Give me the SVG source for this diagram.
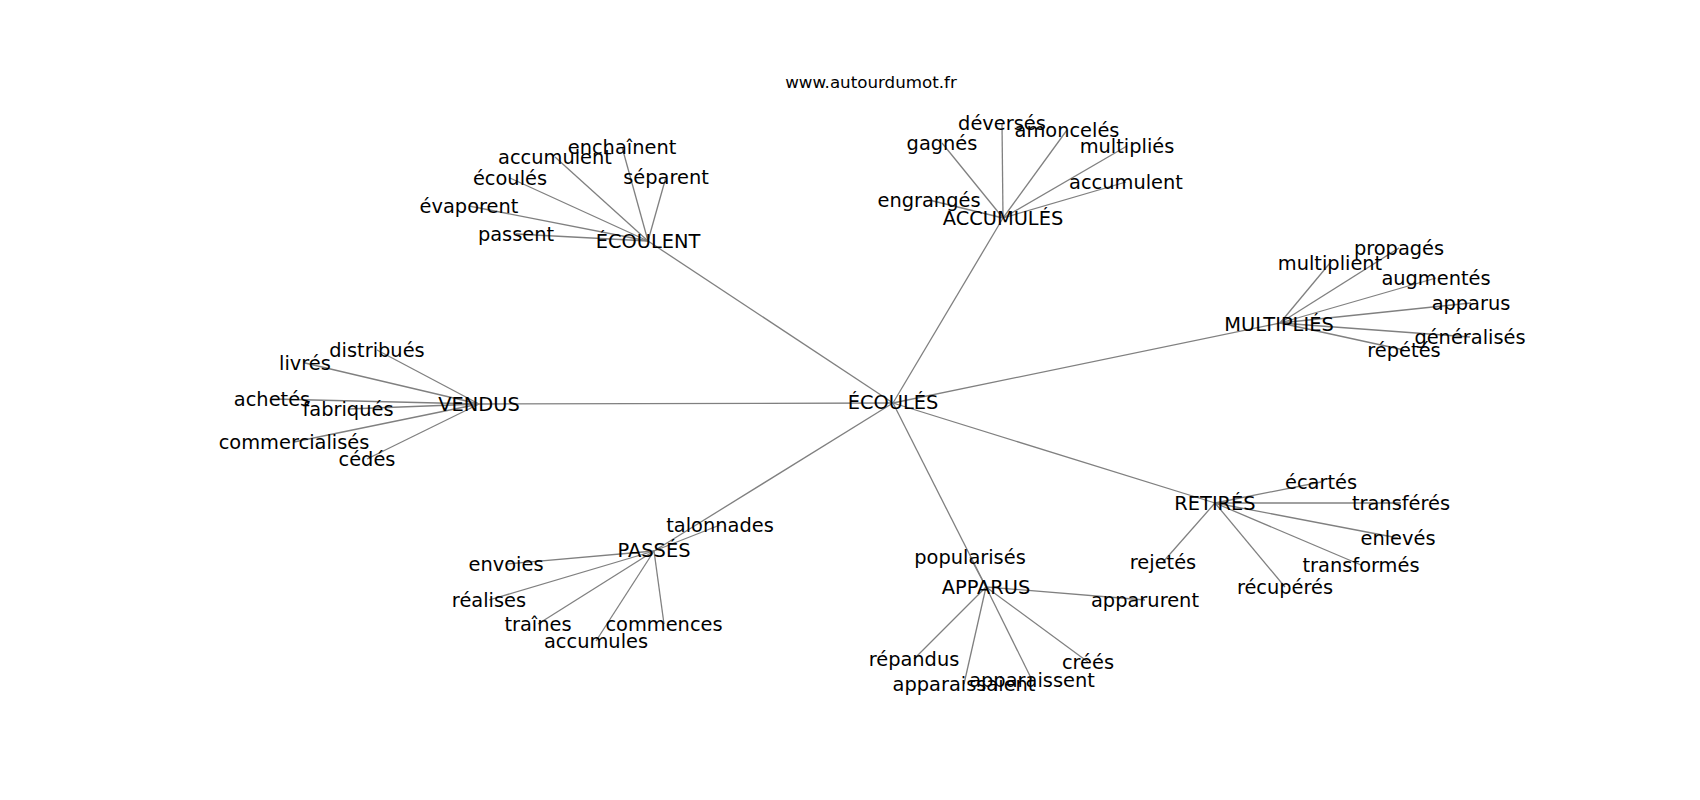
<svg xmlns="http://www.w3.org/2000/svg" width="1700" height="800" viewBox="0 0 1700 800">
<style>
text{font-family:"DejaVu Sans","Liberation Sans",sans-serif;fill:#000;}
.n{font-size:19.4px;text-anchor:middle;dominant-baseline:central;}
.t{font-size:16.7px;text-anchor:middle;}
#edges line{stroke:#808080;stroke-width:1.3;}
</style>
<rect width="1700" height="800" fill="#fff"/>
<text class="t" x="871" y="88">www.autourdumot.fr</text>
<g id="edges">
<line x1="893" y1="403" x2="648" y2="241"/>
<line x1="893" y1="403" x2="1003" y2="218"/>
<line x1="893" y1="403" x2="1280" y2="323"/>
<line x1="893" y1="403" x2="479" y2="404"/>
<line x1="893" y1="403" x2="1215" y2="503"/>
<line x1="893" y1="403" x2="654" y2="551"/>
<line x1="893" y1="403" x2="986" y2="587"/>
<line x1="648" y1="241" x2="622" y2="147"/>
<line x1="648" y1="241" x2="555" y2="157"/>
<line x1="648" y1="241" x2="510" y2="178"/>
<line x1="648" y1="241" x2="666" y2="177"/>
<line x1="648" y1="241" x2="469" y2="206"/>
<line x1="648" y1="241" x2="516" y2="234"/>
<line x1="1003" y1="218" x2="1002" y2="123"/>
<line x1="1003" y1="218" x2="1067" y2="130"/>
<line x1="1003" y1="218" x2="942" y2="143"/>
<line x1="1003" y1="218" x2="1127" y2="146"/>
<line x1="1003" y1="218" x2="1126" y2="182"/>
<line x1="1003" y1="218" x2="929" y2="200"/>
<line x1="1280" y1="323" x2="1330" y2="263"/>
<line x1="1280" y1="323" x2="1399" y2="248"/>
<line x1="1280" y1="323" x2="1436" y2="278"/>
<line x1="1280" y1="323" x2="1471" y2="303"/>
<line x1="1280" y1="323" x2="1470" y2="337"/>
<line x1="1280" y1="323" x2="1404" y2="350"/>
<line x1="479" y1="404" x2="377" y2="350"/>
<line x1="479" y1="404" x2="305" y2="363"/>
<line x1="479" y1="404" x2="272" y2="399"/>
<line x1="479" y1="404" x2="348" y2="409"/>
<line x1="479" y1="404" x2="294" y2="442"/>
<line x1="479" y1="404" x2="367" y2="459"/>
<line x1="1215" y1="503" x2="1321" y2="482"/>
<line x1="1215" y1="503" x2="1401" y2="503"/>
<line x1="1215" y1="503" x2="1398" y2="538"/>
<line x1="1215" y1="503" x2="1361" y2="565"/>
<line x1="1215" y1="503" x2="1285" y2="587"/>
<line x1="1215" y1="503" x2="1163" y2="562"/>
<line x1="654" y1="551" x2="720" y2="525"/>
<line x1="654" y1="551" x2="506" y2="564"/>
<line x1="654" y1="551" x2="489" y2="600"/>
<line x1="654" y1="551" x2="538" y2="624"/>
<line x1="654" y1="551" x2="596" y2="641"/>
<line x1="654" y1="551" x2="664" y2="624"/>
<line x1="986" y1="587" x2="970" y2="557"/>
<line x1="986" y1="587" x2="1145" y2="600"/>
<line x1="986" y1="587" x2="914" y2="659"/>
<line x1="986" y1="587" x2="964" y2="684"/>
<line x1="986" y1="587" x2="1032" y2="680"/>
<line x1="986" y1="587" x2="1088" y2="662"/>
</g>
<g id="n-ecoules"><text class="n" x="893" y="402">ÉCOULÉS</text></g>
<g id="n-ecoulent"><text class="n" x="648" y="241">ÉCOULENT</text></g>
<g id="n-accumules"><text class="n" x="1003" y="218">ACCUMULÉS</text></g>
<g id="n-multiplies"><text class="n" x="1279" y="324">MULTIPLIÉS</text></g>
<g id="n-vendus"><text class="n" x="479" y="404">VENDUS</text></g>
<g id="n-retires"><text class="n" x="1215" y="503">RETIRÉS</text></g>
<g id="n-passes"><text class="n" x="654" y="550">PASSÉS</text></g>
<g id="n-apparus"><text class="n" x="986" y="587">APPARUS</text></g>
<g id="n-enchainent"><text class="n" x="622" y="147">enchaînent</text></g>
<g id="n-accumulent1"><text class="n" x="555" y="157">accumulent</text></g>
<g id="n-ecoules2"><text class="n" x="510" y="178">écoulés</text></g>
<g id="n-separent"><text class="n" x="666" y="177">séparent</text></g>
<g id="n-evaporent"><text class="n" x="469" y="206">évaporent</text></g>
<g id="n-passent"><text class="n" x="516" y="234">passent</text></g>
<g id="n-deverses"><text class="n" x="1002" y="123">déversés</text></g>
<g id="n-amonceles"><text class="n" x="1067" y="130">amoncelés</text></g>
<g id="n-gagnes"><text class="n" x="942" y="143">gagnés</text></g>
<g id="n-multiplies2"><text class="n" x="1127" y="146">multipliés</text></g>
<g id="n-accumulent2"><text class="n" x="1126" y="182">accumulent</text></g>
<g id="n-engranges"><text class="n" x="929" y="200">engrangés</text></g>
<g id="n-multiplient"><text class="n" x="1330" y="263">multiplient</text></g>
<g id="n-propages"><text class="n" x="1399" y="248">propagés</text></g>
<g id="n-augmentes"><text class="n" x="1436" y="278">augmentés</text></g>
<g id="n-apparus2"><text class="n" x="1471" y="303">apparus</text></g>
<g id="n-generalises"><text class="n" x="1470" y="337">généralisés</text></g>
<g id="n-repetes"><text class="n" x="1404" y="350">répétés</text></g>
<g id="n-distribues"><text class="n" x="377" y="350">distribués</text></g>
<g id="n-livres"><text class="n" x="305" y="363">livrés</text></g>
<g id="n-achetes"><text class="n" x="272" y="399">achetés</text></g>
<g id="n-fabriques"><text class="n" x="348" y="409">fabriqués</text></g>
<g id="n-commercialises"><text class="n" x="294" y="442">commercialisés</text></g>
<g id="n-cedes"><text class="n" x="367" y="459">cédés</text></g>
<g id="n-ecartes"><text class="n" x="1321" y="482">écartés</text></g>
<g id="n-transferes"><text class="n" x="1401" y="503">transférés</text></g>
<g id="n-enleves"><text class="n" x="1398" y="538">enlevés</text></g>
<g id="n-transformes"><text class="n" x="1361" y="565">transformés</text></g>
<g id="n-recuperes"><text class="n" x="1285" y="587">récupérés</text></g>
<g id="n-rejetes"><text class="n" x="1163" y="562">rejetés</text></g>
<g id="n-talonnades"><text class="n" x="720" y="525">talonnades</text></g>
<g id="n-envoies"><text class="n" x="506" y="564">envoies</text></g>
<g id="n-realises"><text class="n" x="489" y="600">réalises</text></g>
<g id="n-traines"><text class="n" x="538" y="624">traînes</text></g>
<g id="n-accumules2"><text class="n" x="596" y="641">accumules</text></g>
<g id="n-commences"><text class="n" x="664" y="624">commences</text></g>
<g id="n-popularises"><text class="n" x="970" y="557">popularisés</text></g>
<g id="n-apparurent"><text class="n" x="1145" y="600">apparurent</text></g>
<g id="n-repandus"><text class="n" x="914" y="659">répandus</text></g>
<g id="n-apparaissaient"><text class="n" x="964" y="684">apparaissaient</text></g>
<g id="n-apparaissent"><text class="n" x="1032" y="680">apparaissent</text></g>
<g id="n-crees"><text class="n" x="1088" y="662">créés</text></g>
</svg>
